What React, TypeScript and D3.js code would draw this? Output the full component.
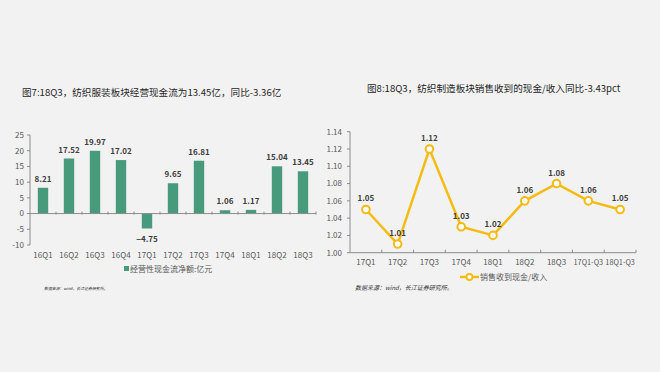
import * as d3 from "d3";
import React from "react";

// left chart: operating cash flow (亿元)
const barCats = ["16Q1", "16Q2", "16Q3", "16Q4", "17Q1", "17Q2", "17Q3", "17Q4", "18Q1", "18Q2", "18Q3"];
const barValues = [8.21, 17.52, 19.97, 17.02, -4.75, 9.65, 16.81, 1.06, 1.17, 15.04, 13.45];
const barTicks = [25, 20, 15, 10, 5, 0, -5, -10];

// right chart: cash received from sales / revenue
const lineCats = ["17Q1", "17Q2", "17Q3", "17Q4", "18Q1", "18Q2", "18Q3", "17Q1-Q3", "18Q1-Q3"];
const lineValues = [1.05, 1.01, 1.12, 1.03, 1.02, 1.06, 1.08, 1.06, 1.05];
const lineTicks = [1.0, 1.02, 1.04, 1.06, 1.08, 1.1, 1.12, 1.14];

const FONT = "'Noto Sans CJK SC', 'Noto Sans', sans-serif";
const BAR_COLOR = "#479b7c";
const LINE_COLOR = "#f4bb12";
const AXIS = "#8c8c8c";
const TEXT = "#595959";
const LABEL = "#3f3f3f";

const BarChart: React.FC = () => {
  const x = d3.scaleBand().domain(barCats).range([30, 316]);
  const y = d3.scaleLinear().domain([-10, 25]).range([245, 135]);
  const bw = x.bandwidth() * 0.4;
  const fmt = d3.format(".2f");
  return (
    <g>
      <text x={22} y={96} fontSize={9.6} fill="#262626" fontFamily={FONT}>
        图7:18Q3，纺织服装板块经营现金流为13.45亿，同比-3.36亿
      </text>
      {/* y axis */}
      <line x1={30} x2={30} y1={y(25)} y2={y(-10)} stroke={AXIS} />
      {barTicks.map((t) => (
        <g key={t}>
          <line x1={27} x2={30} y1={y(t)} y2={y(t)} stroke={AXIS} />
          <text x={24} y={y(t)} dy="0.35em" textAnchor="end" fontSize={8} fill={TEXT} fontFamily={FONT}>
            {t}
          </text>
        </g>
      ))}
      {barCats.map((c, i) => {
        const v = barValues[i];
        const cx = x(c)! + x.bandwidth() / 2;
        return (
          <g key={c}>
            <rect
              x={cx - bw / 2}
              y={y(Math.max(v, 0))}
              width={bw}
              height={Math.abs(y(v) - y(0))}
              fill={BAR_COLOR}
            />
            <text
              x={cx}
              y={v >= 0 ? y(v) - 6 : y(v) + 13}
              textAnchor="middle"
              fontSize={8}
              fontWeight="bold"
              fill={LABEL}
              fontFamily={FONT}
            >
              {fmt(v)}
            </text>
            <text x={cx} y={258} textAnchor="middle" fontSize={8} fill={TEXT} fontFamily={FONT}>
              {c}
            </text>
          </g>
        );
      })}
      {/* zero axis */}
      <line x1={30} x2={316} y1={y(0)} y2={y(0)} stroke={AXIS} />
      {barCats.map((c) => (
        <line key={c} x1={x(c)! + x.bandwidth()} x2={x(c)! + x.bandwidth()} y1={y(0) - 2} y2={y(0) + 1} stroke={AXIS} />
      ))}
      {/* legend */}
      <rect x={124} y={266} width={5} height={5} fill={BAR_COLOR} />
      <text x={130} y={271.5} fontSize={8} fill={TEXT} fontFamily={FONT}>
        经营性现金流净额:亿元
      </text>
      <text x={44} y={290} fontSize={3.9} fontStyle="italic" fill="#333" fontFamily={FONT}>
        数据来源：wind，长江证券研究所。
      </text>
    </g>
  );
};

const LineChart: React.FC = () => {
  const x = d3.scaleBand().domain(lineCats).range([350, 636]);
  const y = d3.scaleLinear().domain([1.0, 1.14]).range([252.7, 131.7]);
  const cx = (c: string) => x(c)! + x.bandwidth() / 2;
  const line = d3
    .line<number>()
    .x((_, i) => cx(lineCats[i]))
    .y((d) => y(d));
  const fmt = d3.format(".2f");
  return (
    <g>
      <text x={367} y={92} fontSize={9.6} fill="#262626" fontFamily={FONT}>
        图8:18Q3，纺织制造板块销售收到的现金/收入同比-3.43pct
      </text>
      <line x1={350} x2={350} y1={y(1.14)} y2={y(1.0)} stroke={AXIS} />
      {lineTicks.map((t) => (
        <g key={t}>
          <line x1={347} x2={350} y1={y(t)} y2={y(t)} stroke={AXIS} />
          <text x={342} y={y(t)} dy="0.35em" textAnchor="end" fontSize={8} fill={TEXT} fontFamily={FONT}>
            {fmt(t)}
          </text>
        </g>
      ))}
      <line x1={350} x2={636} y1={y(1.0)} y2={y(1.0)} stroke={AXIS} />
      {lineCats.map((c) => (
        <g key={c}>
          <line x1={x(c)! + x.bandwidth()} x2={x(c)! + x.bandwidth()} y1={y(1.0)} y2={y(1.0) - 3} stroke={AXIS} />
          <text
            x={cx(c)}
            y={265}
            textAnchor="middle"
            fontSize={c.length > 4 ? 7.3 : 8}
            fill={TEXT}
            fontFamily={FONT}
          >
            {c}
          </text>
        </g>
      ))}
      <path d={line(lineValues)!} fill="none" stroke={LINE_COLOR} strokeWidth={2.5} />
      {lineValues.map((v, i) => (
        <g key={i}>
          <circle cx={cx(lineCats[i])} cy={y(v)} r={3.8} fill="#fff" stroke={LINE_COLOR} strokeWidth={2} />
          <text
            x={cx(lineCats[i])}
            y={y(v) - 8}
            textAnchor="middle"
            fontSize={8}
            fontWeight="bold"
            fill={LABEL}
            fontFamily={FONT}
          >
            {fmt(v)}
          </text>
        </g>
      ))}
      {/* legend */}
      <line x1={460} x2={479} y1={277} y2={277} stroke={LINE_COLOR} strokeWidth={2.5} />
      <circle cx={469.5} cy={277} r={3} fill="#fff" stroke={LINE_COLOR} strokeWidth={1.8} />
      <text x={480} y={280} fontSize={8} fill={TEXT} fontFamily={FONT}>
        销售收到现金/收入
      </text>
      <text x={355} y={290} fontSize={6} fontStyle="italic" fill="#333" fontFamily={FONT}>
        数据来源：wind，长江证券研究所。
      </text>
    </g>
  );
};

export default function App() {
  return (
    <svg
      width={660}
      height={372}
      style={{ position: "absolute", left: 0, top: 0, background: "#f2f2f2" }}
    >
      <rect width={660} height={372} fill="#f2f2f2" />
      <BarChart />
      <LineChart />
    </svg>
  );
}
